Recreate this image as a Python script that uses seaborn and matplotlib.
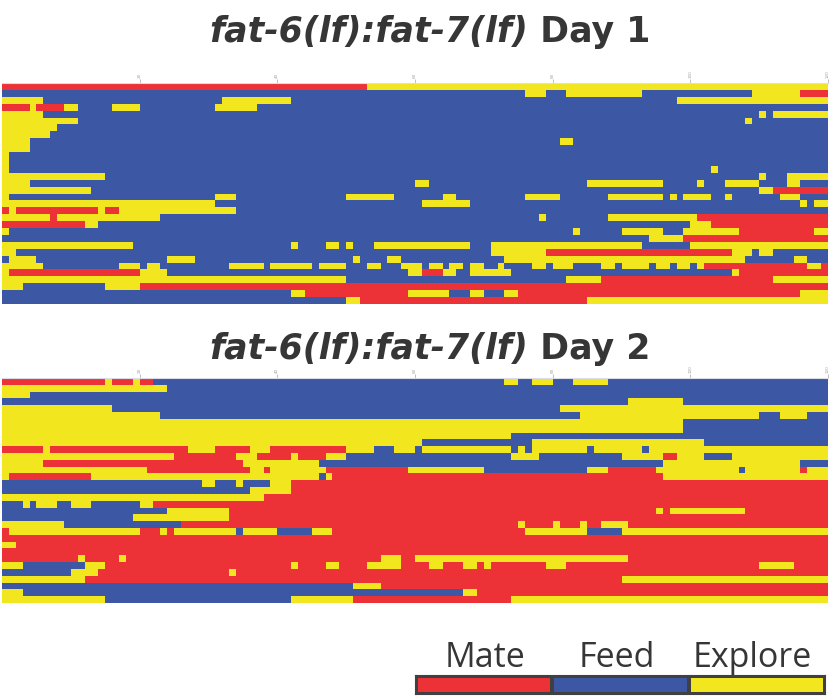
import numpy as np
import matplotlib
matplotlib.use('Agg')
import matplotlib.pyplot as plt
from matplotlib.colors import ListedColormap
import seaborn as sns

# behaviour states and colours
STATES = ['Mate', 'Feed', 'Explore']
STATE_CODES = {'M': 0, 'F': 1, 'E': 2}
STATE_COLORS = ['#EC3237', '#3C58A5', '#F2E71E']
N_BINS = 120
TICK_BINS = [20, 40, 60, 80, 100, 120]

# one string per animal: state letter + end bin of each run
DAY1_ROWS = [
    "M53 E120",
    "F76 E79 F82 E93 F109 E116 M120",
    "E6 F32 E42 F98 E120",
    "M4 E5 M9 E11 F16 E20 F31 E37 F120",
    "E6 F110 E111 F112 E120",
    "E11 F108 E109 F120",
    "E8 F120",
    "E7 F120",
    "E4 F81 E83 F120",
    "E4 F120",
    "E1 F120",
    "E1 F120",
    "E1 F103 E104 F120",
    "E15 F110 E111 F114 E120",
    "E4 F60 E62 F85 E96 F101 E102 F105 E110 F114 E116 F120",
    "E13 F110 E112 M120",
    "E1 F31 E34 F50 E57 F64 E66 F76 E81 F88 E96 F97 E98 F99 E103 F105 E106 F113 E116 F120",
    "E31 F61 E68 F116 E117 F118 E120",
    "M1 E2 M14 E15 M17 E34 F120",
    "E7 M8 E23 F78 E79 F88 E101 M120",
    "M12 E14 F100 E103 M120",
    "E1 F83 E84 F90 E96 F99 E107 M118 E120",
    "F94 E99 M120",
    "E19 F42 E43 F47 E49 F50 E51 F54 E68 F71 E93 F100 E120",
    "E2 F71 E79 M106 E109 F110 E112 F120",
    "F1 E5 F24 E28 F51 E52 F56 E58 F73 E108 F115 E117 F120",
    "E6 F17 E20 F21 E23 F33 E38 F39 E45 F46 E50 F53 E55 F58 E61 F62 E64 F65 E67 F68 "
    "E70 F72 E73 F77 E79 F80 E83 F87 E89 F90 E94 F95 E97 F98 E100 F101 E102 M117 E119 M120",
    "E1 M20 E24 F59 E61 M64 E66 F68 E74 F106 E107 M120",
    "E50 F82 E87 M112 E120",
    "E3 F15 E20 M120",
    "F42 E44 M59 E65 F68 E70 F73 E75 M116 E120",
    "F50 E52 M85 E120",
]

DAY2_ROWS = [
    "M15 E16 M19 E20 M22 F73 E75 F77 E80 F83 E88 F120",
    "E24 F120",
    "E4 F120",
    "F91 E99 F120",
    "E16 F81 E120",
    "E23 F84 E110 F113 E117 F120",
    "E99 F120",
    "E99 F120",
    "E74 F120",
    "E61 F77 E102 F120",
    "M6 E7 M27 E31 M36 E39 M50 E54 F57 E60 F61 E74 F75 E76 F77 E85 F86 E93 F94 E120",
    "E25 M34 E37 M42 E43 M47 E50 F74 E78 F90 E96 M98 E102 F106 E120",
    "E6 M35 E46 F96 E116 F120",
    "E21 M36 E38 M39 E47 M59 E70 F85 E88 M95 E107 F108 E116 M117 E120",
    "E1 M13 E46 F47 E48 M96 E120",
    "F29 E31 F34 E35 F39 E42 M120",
    "F36 E42 M120",
    "E38 M120",
    "F3 E4 F5 E8 F10 E13 F20 E22 M120",
    "F24 E33 M95 E96 M97 E108 M120",
    "F19 E33 M120",
    "E9 F26 M75 E76 M80 E81 M84 E85 M87 E91 M120",
    "M1 E20 M23 E24 M25 E34 F35 E40 F45 E48 M76 E85 F90 E120",
    "M120",
    "E2 M120",
    "M120",
    "M11 E12 M17 E18 M55 E58 M60 E91 M120",
    "E3 F12 E15 M42 E43 M47 E49 M53 E58 M62 E64 M67 E69 M70 E71 M79 E82 M110 E115 M120",
    "F10 E14 M33 E34 M120",
    "E12 M90 E120",
    "F51 E55 M120",
    "E3 F67 E69 M120",
    "E15 F42 E51 M74 E120",
]

GENOTYPE = 'fat-6(lf):fat-7(lf)'
DAY_LABELS = ['Day 1', 'Day 2']


def decode(rows):
    """Turn the run strings into a (animals x bins) state matrix."""
    mat = np.zeros((len(rows), N_BINS), dtype=int)
    for i, row in enumerate(rows):
        start = 0
        for seg in row.split():
            end = int(seg[1:])
            mat[i, start:end] = STATE_CODES[seg[0]]
            start = end
    return mat


sns.set_style('white')
plt.rcParams['font.family'] = ['DejaVu Sans']

W, H = 830, 698
fig = plt.figure(figsize=(W / 100, H / 100), dpi=100)
cmap = ListedColormap(STATE_COLORS)
TXT = '#363636'


def px_axes(x0, y0, x1, y1):
    # axes placed in pixel coordinates (top-left origin)
    return fig.add_axes([x0 / W, 1 - y1 / H, (x1 - x0) / W, (y1 - y0) / H])


def draw_panel(ax, mat):
    sns.heatmap(mat, ax=ax, cmap=cmap, vmin=-0.5, vmax=2.5, cbar=False,
                xticklabels=False, yticklabels=False)
    ax.set_xticks(TICK_BINS)
    ax.set_xticklabels([str(t) for t in TICK_BINS], rotation=90)
    ax.xaxis.tick_top()
    ax.tick_params(axis='x', top=True, bottom=False, length=3, width=0.6,
                   color='#b5b5b5', labelsize=3, labelcolor='#a0a0a0', pad=0.5)
    ax.tick_params(axis='y', left=False)
    for s in ax.spines.values():
        s.set_visible(False)
    ax.spines['top'].set_visible(True)
    ax.spines['top'].set_color('#dcdce8')
    ax.spines['top'].set_linewidth(0.8)


def draw_title(cx, baseline, genotype, day):
    t1 = fig.text(0, 1 - baseline / H, genotype, fontsize=25, fontweight='bold',
                  style='italic', color=TXT, va='baseline')
    t2 = fig.text(0, 1 - baseline / H, ' ' + day, fontsize=25, fontweight='bold',
                  color=TXT, va='baseline')
    fig.canvas.draw()
    r = fig.canvas.get_renderer()
    w1 = t1.get_window_extent(r).width
    w2 = t2.get_window_extent(r).width
    x0 = cx - (w1 + w2) / 2
    t1.set_x(x0 / W)
    t2.set_x((x0 + w1) / W)


# panels
ax1 = px_axes(2, 83, 828, 304)
draw_panel(ax1, decode(DAY1_ROWS))
ax2 = px_axes(2, 378, 828, 603)
draw_panel(ax2, decode(DAY2_ROWS))

draw_title(430, 42, GENOTYPE, DAY_LABELS[0])
draw_title(430, 359, GENOTYPE, DAY_LABELS[1])

# legend bar
axl = px_axes(416, 676, 825, 694)
sns.heatmap(np.array([[0, 1, 2]]), ax=axl, cmap=cmap, vmin=-0.5, vmax=2.5,
            cbar=False, xticklabels=False, yticklabels=False,
            linewidths=1.5, linecolor='#404040')
for s in axl.spines.values():
    s.set_visible(True)
    s.set_color('#404040')
    s.set_linewidth(1.5)
label_x = [485, 617, 752]
for name, lx in zip(STATES, label_x):
    fig.text(lx / W, 1 - 667 / H, name, fontsize=24.5, family='Open Sans',
             color=TXT, ha='center', va='baseline')

fig.savefig('out.png', dpi=100)
